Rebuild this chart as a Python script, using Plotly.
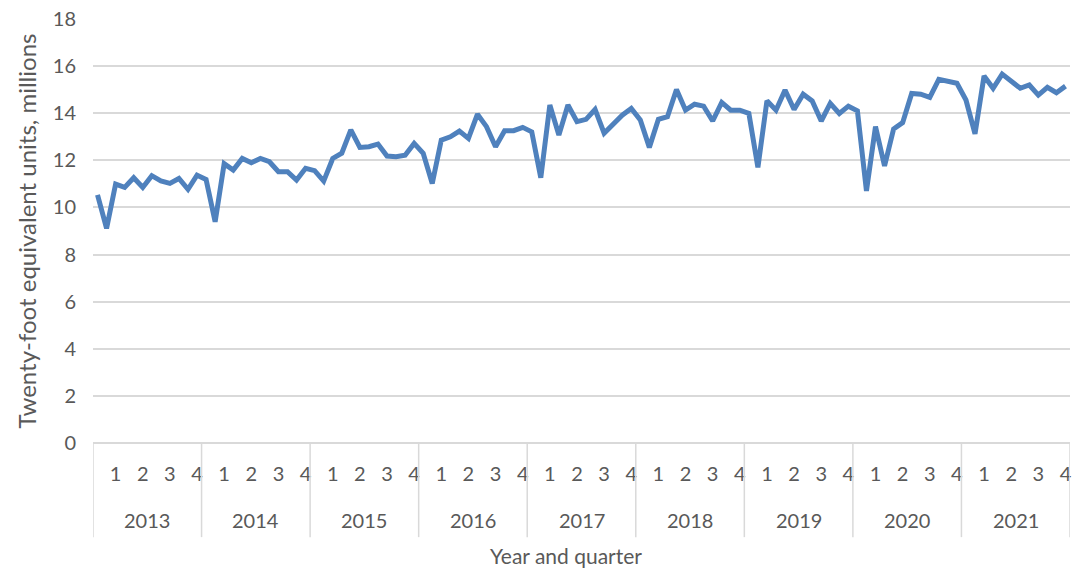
import plotly.graph_objects as go

years = [2013, 2014, 2015, 2016, 2017, 2018, 2019, 2020, 2021]
quarter_labels = ["1", "2", "3", "4"]

# Monthly container throughput, millions of TEU (Jan 2013 .. Dec 2021)
teu = [
    10.53, 9.11, 10.99, 10.85, 11.26, 10.85, 11.35, 11.13, 11.02, 11.23, 10.77, 11.37,  # 2013
    11.19, 9.39, 11.86, 11.59, 12.08, 11.90, 12.08, 11.94, 11.52, 11.52, 11.16, 11.66,  # 2014
    11.56, 11.12, 12.08, 12.30, 13.29, 12.55, 12.58, 12.69, 12.18, 12.15, 12.22, 12.72,  # 2015
    12.30, 11.02, 12.86, 13.00, 13.24, 12.93, 13.96, 13.43, 12.58, 13.26, 13.26, 13.40,  # 2016
    13.21, 11.26, 14.35, 13.07, 14.35, 13.64, 13.74, 14.16, 13.15, 13.54, 13.92, 14.20,  # 2017
    13.71, 12.55, 13.74, 13.85, 15.01, 14.13, 14.38, 14.30, 13.67, 14.46, 14.13, 14.13,  # 2018
    13.99, 11.70, 14.53, 14.13, 14.98, 14.16, 14.81, 14.52, 13.67, 14.42, 13.99, 14.30,  # 2019
    14.10, 10.70, 13.43, 11.76, 13.33, 13.60, 14.84, 14.81, 14.67, 15.44, 15.37, 15.27,  # 2020
    14.56, 13.12, 15.58, 15.06, 15.66, 15.37, 15.06, 15.20, 14.77, 15.10, 14.87, 15.15,  # 2021
]
y_ticks = [0, 2, 4, 6, 8, 10, 12, 14, 16, 18]

months_per_year = 12
x_idx = list(range(len(teu)))

# quarter tick positions: last month of each quarter
tickvals = []
ticktext = []
for yi, _ in enumerate(years):
    for qi, q in enumerate(quarter_labels):
        tickvals.append(yi * months_per_year + qi * 3 + 2)
        ticktext.append(q)

FONT = "Lato, 'Open Sans', sans-serif"
TXT = "#595959"
GRID = "#d9d9d9"

fig = go.Figure()
fig.add_trace(go.Scatter(
    x=x_idx, y=teu, mode="lines",
    line=dict(color="#4f81bd", width=5),
    hoverinfo="y", showlegend=False,
))

shapes = []
for b in range(len(years) + 1):
    xb = b * months_per_year - 0.5
    shapes.append(dict(type="line", xref="x", yref="paper",
                       x0=xb, x1=xb, y0=0, y1=-0.222,
                       line=dict(color=GRID, width=1.5)))

annotations = []
for yi, yr in enumerate(years):
    annotations.append(dict(x=yi * months_per_year + 5.5, y=-0.182,
                            xref="x", yref="paper", text=str(yr),
                            showarrow=False, xanchor="center", yanchor="middle",
                            font=dict(family=FONT, size=20, color=TXT)))
annotations.append(dict(x=0.484, y=-0.265, xref="paper", yref="paper",
                        text="Year and quarter", showarrow=False,
                        xanchor="center", yanchor="middle",
                        font=dict(family=FONT, size=21, color=TXT)))
annotations.append(dict(x=-0.069, y=0.5, xref="paper", yref="paper",
                        text="Twenty-foot equivalent units, millions",
                        textangle=-90, showarrow=False,
                        xanchor="center", yanchor="middle",
                        font=dict(family=FONT, size=24, color=TXT)))

fig.update_layout(
    width=1075, height=568,
    margin=dict(l=93, r=3, t=19, b=125),
    paper_bgcolor="white", plot_bgcolor="white",
    font=dict(family=FONT, size=20, color=TXT),
    shapes=shapes, annotations=annotations,
    xaxis=dict(range=[-0.5, len(teu) - 0.5], tickmode="array",
               tickvals=tickvals, ticktext=ticktext,
               ticks="outside", ticklen=13, tickcolor="rgba(0,0,0,0)",
               showgrid=False, zeroline=False, showline=False,
               ticklabeloverflow="allow",
               tickfont=dict(family=FONT, size=20, color=TXT), tickangle=0),
    yaxis=dict(range=[0, 18], tickmode="array", tickvals=y_ticks,
               ticktext=[str(v) for v in y_ticks],
               showgrid=True, gridcolor=GRID, gridwidth=1.5,
               zeroline=True, zerolinecolor=GRID, zerolinewidth=1.5,
               showline=False, ticks="outside", ticklen=12,
               tickcolor="rgba(0,0,0,0)", ticklabeloverflow="allow",
               tickfont=dict(family=FONT, size=20, color=TXT)),
)

# remove the default 8px page margin so the figure sits at the window origin
fig.write_html("out.html",
               config={"displayModeBar": False},
               post_script="document.body.style.margin='0';document.body.style.overflow='hidden';")
